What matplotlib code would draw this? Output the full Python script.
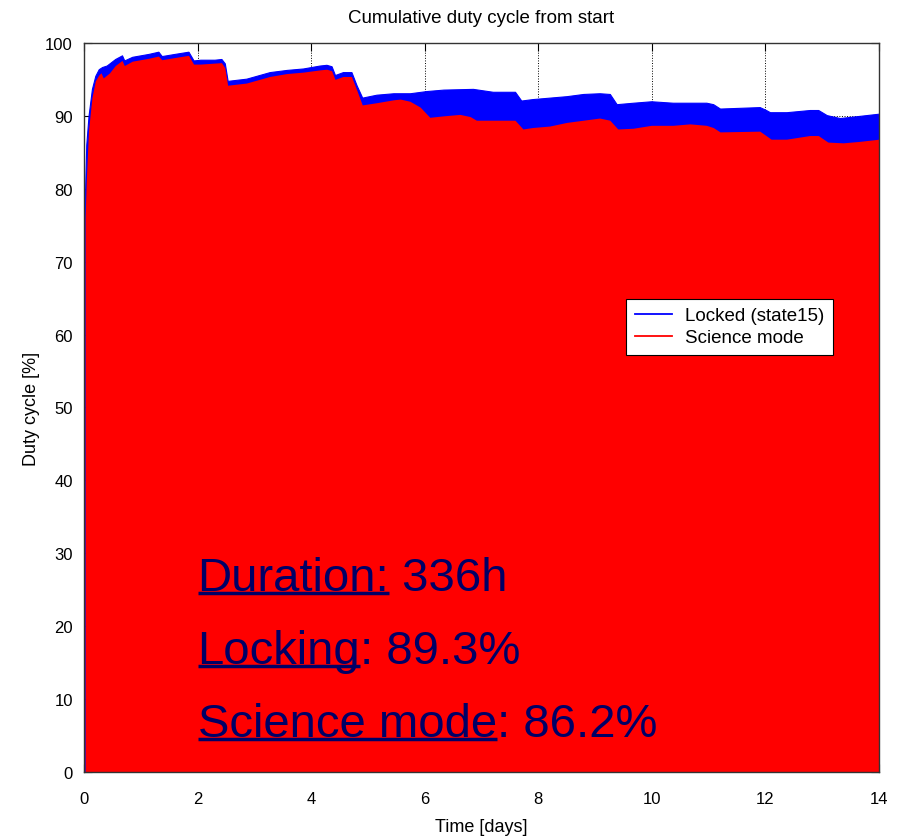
import matplotlib
matplotlib.use("Agg")
import matplotlib.pyplot as plt

# Cumulative duty cycle, locked (state 15)
locked_days = [0.02, 0.04, 0.08, 0.14, 0.20, 0.26, 0.32, 0.40, 0.55, 0.67, 0.71, 0.85,
               1.14, 1.31, 1.37, 1.60, 1.84, 1.93, 2.05, 2.30, 2.42, 2.48, 2.53, 2.86,
               3.27, 3.57, 3.86, 4.15, 4.27, 4.36, 4.42, 4.56, 4.71, 4.80, 4.90, 5.15,
               5.45, 5.74, 6.03, 6.33, 6.85, 7.20, 7.59, 7.70, 7.90, 8.20, 8.50, 8.79,
               9.08, 9.26, 9.38, 9.67, 9.99, 10.37, 10.96, 11.08, 11.20, 11.55, 11.90,
               12.01, 12.08, 12.37, 12.78, 12.93, 13.08, 13.31, 13.66, 14.00]
locked_pct = [80.0, 86.0, 90.0, 93.7, 95.5, 96.4, 96.7, 96.9, 97.8, 98.3, 97.6, 98.1,
              98.5, 98.8, 98.2, 98.5, 98.8, 97.6, 97.7, 97.7, 97.8, 97.2, 94.8, 95.1,
              96.0, 96.3, 96.5, 96.9, 97.0, 96.8, 95.6, 96.0, 96.0, 94.2, 92.5, 92.9,
              93.1, 93.1, 93.4, 93.6, 93.7, 93.3, 93.3, 92.1, 92.3, 92.5, 92.7, 93.0,
              93.1, 93.0, 91.6, 91.8, 92.0, 91.8, 91.8, 91.6, 91.0, 91.1, 91.2,
              90.8, 90.5, 90.5, 90.8, 90.8, 90.1, 89.7, 90.0, 90.3]

# Cumulative duty cycle, science mode
science_days = [0.02, 0.04, 0.08, 0.14, 0.20, 0.26, 0.30, 0.34, 0.45, 0.55, 0.67, 0.71,
                0.85, 1.14, 1.31, 1.37, 1.60, 1.84, 1.93, 2.05, 2.42, 2.48, 2.53, 2.86,
                3.27, 3.57, 3.86, 4.15, 4.27, 4.36, 4.42, 4.56, 4.71, 4.80, 4.90, 5.15,
                5.45, 5.57, 5.74, 5.92, 6.09, 6.33, 6.62, 6.80, 6.91, 7.59, 7.73, 7.90,
                8.20, 8.50, 8.79, 9.08, 9.26, 9.40, 9.67, 9.99, 10.37, 10.67, 10.96,
                11.08, 11.20, 11.90, 12.01, 12.10, 12.37, 12.78, 12.93, 13.10, 13.37,
                13.66, 14.00]
science_pct = [76.0, 81.0, 88.0, 92.5, 94.8, 95.6, 95.9, 95.2, 95.9, 96.9, 97.6, 96.9,
               97.5, 97.9, 98.2, 97.7, 98.0, 98.3, 97.1, 97.1, 97.3, 96.6, 94.2, 94.5,
               95.4, 95.8, 96.0, 96.3, 96.4, 96.2, 95.0, 95.4, 95.4, 93.6, 91.5, 91.8,
               92.2, 92.3, 92.0, 91.2, 89.8, 90.0, 90.2, 89.9, 89.4, 89.4, 88.2, 88.4,
               88.6, 89.1, 89.4, 89.7, 89.4, 88.2, 88.3, 88.7, 88.7, 88.9, 88.7,
               88.4, 87.8, 87.9, 87.3, 86.8, 86.8, 87.3, 87.3, 86.4, 86.3,
               86.5, 86.8]

x_ticks = [0, 2, 4, 6, 8, 10, 12, 14]
y_ticks = [0, 10, 20, 30, 40, 50, 60, 70, 80, 90, 100]

summary = [("Duration:", " 336h", 25),
           ("Locking", ": 89.3%", 15),
           ("Science mode", ": 86.2%", 5)]

plt.rcParams["font.family"] = ["Liberation Sans", "DejaVu Sans"]

fig = plt.figure(figsize=(9.01, 8.37), dpi=100)
ax = fig.add_axes([0.0932, 0.0765, 0.8824, 0.8710])

blue = "#0000ff"
red = "#ff0000"
navy = "#000066"

ax.fill_between(locked_days, 0, locked_pct, color=blue, lw=0.8, zorder=2)
ax.fill_between(science_days, 0, science_pct, color=red, lw=0, zorder=3)

ax.set_xlim(0, 14)
ax.set_ylim(0, 100)
ax.set_xticks(x_ticks)
ax.set_yticks(y_ticks)
ax.tick_params(direction="in", top=True, right=True, length=6, width=0.8,
               labelsize=12, colors="black")
ax.tick_params(axis="x", pad=14)
ax.tick_params(axis="y", pad=8)
ax.grid(True, linestyle=":", color="black", linewidth=0.7, zorder=1)
ax.set_axisbelow(True)
for sp in ax.spines.values():
    sp.set_color("#333333")
    sp.set_linewidth(1.0)
    sp.set_zorder(5)

ax.set_title("Cumulative duty cycle from start", fontsize=13.5, y=1.0, pad=15)
ax.set_xlabel("Time [days]", fontsize=13, labelpad=8)
ax.set_ylabel("Duty cycle [%]", fontsize=13, labelpad=4)

h1, = ax.plot([], [], color=blue, lw=1.3, label="Locked (state15)")
h2, = ax.plot([], [], color=red, lw=1.3, label="Science mode")
leg = ax.legend(handles=[h1, h2], loc="upper right", bbox_to_anchor=(0.942, 0.649),
                fontsize=13.5, frameon=True, fancybox=False, framealpha=1,
                edgecolor="black", borderpad=0.45, handlelength=2.0,
                handletextpad=0.7, labelspacing=0.25, borderaxespad=0)
leg.get_frame().set_linewidth(0.8)
leg.set_zorder(6)

# Summary text: underlined label followed by its value
fig.canvas.draw()
renderer = fig.canvas.get_renderer()
inv = ax.transData.inverted()
for label, value, ybase in summary:
    t1 = ax.text(2.0, ybase, label, fontsize=34, color=navy, va="baseline",
                 ha="left", zorder=7)
    bb = t1.get_window_extent(renderer=renderer)
    x_end = inv.transform((bb.x1, 0))[0]
    x_start = inv.transform((bb.x0, 0))[0]
    ax.text(x_end, ybase, value, fontsize=34, color=navy, va="baseline",
            ha="left", zorder=7)
    ax.plot([x_start, x_end], [ybase - 0.5, ybase - 0.5], color=navy, lw=2.5,
            solid_capstyle="butt", zorder=7)

fig.savefig("out.png", dpi=100)
